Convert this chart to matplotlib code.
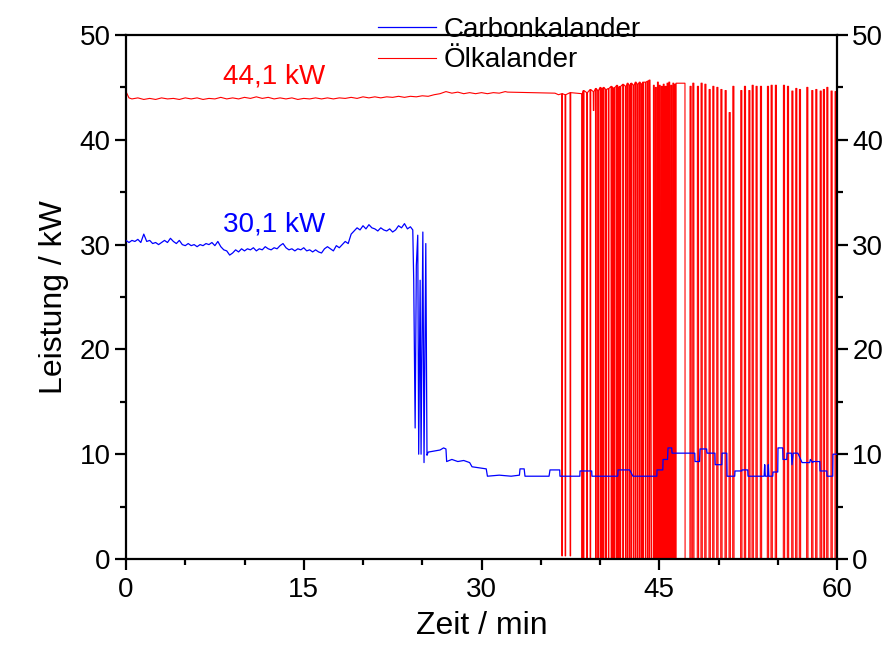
import numpy as np
import matplotlib
matplotlib.use("Agg")
import matplotlib.pyplot as plt

plt.rcParams['font.family'] = ['Liberation Sans', 'DejaVu Sans']

# Carbonkalander: power in kW, sampled in minutes
carbon_t = [0.00, 0.25, 0.50, 0.75, 1.00, 1.25, 1.50, 1.75, 2.00, 2.25, 2.50, 2.75,
            3.00, 3.25, 3.50, 3.75, 4.00, 4.25, 4.50, 4.75, 5.00, 5.25, 5.50, 5.75,
            6.00, 6.25, 6.50, 6.75, 7.00, 7.25, 7.50, 7.75, 8.00, 8.25, 8.50, 8.75,
            9.00, 9.25, 9.50, 9.75, 10.00, 10.25, 10.50, 10.75, 11.00, 11.25, 11.50, 11.75,
            12.00, 12.25, 12.50, 12.75, 13.00, 13.25, 13.50, 13.75, 14.00, 14.25, 14.50, 14.75,
            15.00, 15.25, 15.50, 15.75, 16.00, 16.25, 16.50, 16.75, 17.00, 17.25, 17.50, 17.75,
            18.00, 18.25, 18.50, 18.75, 19.00, 19.25, 19.50, 19.75, 20.00, 20.25, 20.50, 20.75,
            21.00, 21.25, 21.50, 21.75, 22.00, 22.25, 22.50, 22.75, 23.00, 23.25, 23.50, 23.75,
            24.00, 24.20, 24.28, 24.40, 24.50, 24.62, 24.70, 24.82, 24.90, 25.05, 25.15, 25.30,
            25.40, 25.50, 26.00, 26.50, 26.80, 27.00, 27.06, 27.50, 28.00, 28.50, 29.00, 29.20,
            29.80, 30.40, 30.50, 31.50, 32.50, 33.20, 33.25, 33.60, 33.67, 35.70, 35.78, 36.60,
            36.62, 38.30, 38.31, 39.30, 39.32, 41.50, 41.52, 42.50, 42.78, 44.80, 44.81, 45.30,
            45.32, 45.70, 45.74, 46.05, 46.08, 48.00, 48.02, 48.40, 48.44, 49.00, 49.03, 49.70,
            49.72, 50.28, 50.30, 50.70, 50.72, 51.37, 51.39, 51.96, 51.98, 52.47, 52.49, 53.85,
            53.90, 53.95, 54.15, 54.20, 54.25, 54.58, 54.60, 55.00, 55.02, 55.42, 55.44, 55.76,
            55.78, 56.15, 56.20, 56.30, 56.70, 57.05, 57.70, 57.75, 57.95, 57.97, 58.55, 58.57,
            59.14, 59.16, 59.64, 59.66, 60.00]
carbon_kw = [30.4, 30.2, 30.4, 30.3, 30.5, 30.2, 31.0, 30.3, 30.4, 30.1, 30.2, 30.0,
             30.2, 30.4, 30.2, 30.6, 30.3, 30.1, 30.4, 30.0, 29.9, 30.1, 29.9, 30.0,
             29.8, 30.0, 29.9, 30.1, 30.0, 30.2, 29.9, 30.3, 29.8, 29.5, 29.4, 29.0,
             29.2, 29.5, 29.3, 29.6, 29.4, 29.6, 29.5, 29.7, 29.4, 29.6, 29.5, 29.8,
             29.6, 29.5, 29.7, 29.6, 29.9, 30.1, 29.7, 29.5, 29.6, 29.4, 29.6, 29.5,
             29.7, 29.4, 29.5, 29.3, 29.5, 29.3, 29.2, 29.6, 29.8, 29.6, 29.4, 29.9,
             29.7, 30.0, 30.3, 30.1, 31.0, 31.3, 31.6, 31.4, 31.8, 31.5, 31.9, 31.6,
             31.5, 31.3, 31.6, 31.4, 31.3, 31.5, 31.2, 31.4, 31.8, 31.6, 32.0, 31.5,
             31.7, 31.4, 26.6, 12.5, 28.0, 30.9, 10.0, 26.6, 10.0, 31.2, 9.2, 30.1,
             9.9, 10.2, 10.3, 10.4, 10.6, 10.5, 9.3, 9.5, 9.3, 9.4, 9.2, 8.8,
             8.7, 8.6, 7.9, 8.0, 7.9, 8.0, 8.6, 8.6, 7.9, 7.9, 8.5, 8.5,
             7.9, 7.9, 8.4, 8.4, 7.9, 7.9, 8.5, 8.5, 7.9, 7.9, 8.5, 8.5,
             9.5, 9.5, 10.6, 10.6, 10.1, 10.1, 9.3, 9.3, 10.5, 10.5, 10.1, 10.1,
             9.0, 9.0, 10.1, 10.1, 7.9, 7.9, 8.4, 8.4, 8.5, 8.5, 7.9, 7.9,
             9.0, 7.9, 7.9, 9.0, 7.9, 7.9, 8.3, 8.3, 10.6, 10.6, 9.5, 9.5,
             10.1, 10.1, 9.0, 10.1, 10.1, 9.2, 9.2, 9.5, 9.2, 9.3, 9.3, 8.4,
             8.4, 7.9, 7.9, 10.0, 10.0]

# Ölkalander, steady part before the cycling starts
oil_t = [0.00, 0.25, 0.50, 1.00, 1.50, 2.00, 2.50, 3.00, 3.50, 4.00, 4.50, 5.00,
         5.50, 6.00, 6.50, 7.00, 7.50, 8.00, 8.50, 9.00, 9.50, 10.00, 10.50, 11.00,
         11.50, 12.00, 12.50, 13.00, 13.50, 14.00, 14.50, 15.00, 15.50, 16.00, 16.50, 17.00,
         17.50, 18.00, 18.50, 19.00, 19.50, 20.00, 20.50, 21.00, 21.50, 22.00, 22.50, 23.00,
         23.50, 24.00, 24.50, 25.00, 25.50, 26.00, 26.50, 27.00, 27.50, 28.00, 28.50, 29.00,
         29.50, 30.00, 30.50, 31.00, 31.50, 32.00, 32.20, 36.20, 36.50]
oil_kw = [44.6, 44.0, 43.9, 44.0, 43.85, 43.95, 43.85, 44.0, 43.9, 43.95, 43.85, 44.0,
          43.9, 44.0, 43.85, 43.95, 43.9, 44.05, 43.9, 44.0, 43.9, 44.05, 43.95, 44.1,
          43.95, 44.05, 43.9, 44.0, 43.9, 44.0, 43.85, 43.95, 43.9, 44.0, 43.9, 44.0,
          43.9, 44.0, 43.95, 44.05, 43.95, 44.1, 44.0, 44.1, 44.0, 44.1, 44.05, 44.15,
          44.05, 44.15, 44.1, 44.2, 44.15, 44.3, 44.4, 44.6, 44.45, 44.55, 44.4, 44.5,
          44.4, 44.5, 44.4, 44.5, 44.45, 44.6, 44.55, 44.45, 44.3]

# short drops to zero while the calender is still running
oil_dip_t = [36.77, 37.05, 37.47, 38.46, 38.59, 38.88, 39.16, 39.43, 39.62, 39.81,
             40.00, 40.14, 40.28, 40.48, 40.70, 40.93, 41.07, 41.21, 41.41, 41.55,
             41.69, 41.92, 42.14, 42.30, 42.47, 42.62, 42.81, 42.98, 43.15, 43.32,
             43.48, 43.60, 43.82, 44.00, 44.16]
oil_dip_top = [44.4, 44.3, 44.5, 44.4, 44.7, 44.5, 44.8, 44.6, 44.9, 44.7,
               45.0, 44.8, 45.0, 44.8, 44.9, 45.1, 44.9, 45.0, 45.2, 45.0,
               45.1, 45.3, 45.1, 45.4, 45.2, 45.4, 45.2, 45.5, 45.3, 45.5,
               45.3, 45.5, 45.5, 45.6, 45.7]
oil_dip_low = [0.3, 0.3, 0.3, 0.0, 0.0, 0.0, 0.0, 42.8, 0.0, 0.0,
               0.0, 0.0, 0.0, 0.0, 0.0, 0.0, 0.0, 0.0, 0.0, 0.0,
               0.0, 0.0, 0.0, 0.0, 0.0, 0.0, 0.0, 0.0, 0.0, 0.0,
               0.0, 0.0, 0.0, 0.0, 0.0]

# short pulses from zero once the calender cycles on and off
oil_pulse_t = [44.50, 44.67, 44.84, 45.00, 45.17, 45.33, 45.49, 45.65, 45.80, 45.97,
               46.14, 46.29, 46.41, 47.59, 47.82, 48.21,
               48.52, 48.84, 49.20, 49.51, 49.85, 50.19, 50.55, 50.89, 51.20, 51.87,
               52.18, 52.55, 52.83, 53.16, 53.53, 54.12, 54.43, 54.79, 55.47, 55.81,
               56.18, 56.51, 56.82, 57.44, 57.86, 58.20, 58.57, 58.84, 59.13, 59.49,
               59.83]
oil_pulse_kw = [45.2, 45.0, 45.5, 45.2, 45.1, 45.3, 45.1, 45.4, 45.5, 45.2,
                45.4, 45.3, 45.4, 45.1, 45.4, 45.1,
                45.4, 45.3, 44.8, 45.1, 45.0, 44.8, 44.7, 42.6, 45.1, 44.7,
                45.1, 44.7, 45.2, 45.1, 45.1, 45.1, 45.2, 45.2, 45.2, 45.1,
                44.65, 44.9, 44.8, 45.0, 44.7, 44.8, 44.65, 44.8, 45.0, 44.65,
                44.6]
oil_pulse_len = [0.08, 0.08, 0.08, 0.08, 0.08, 0.08, 0.08, 0.08, 0.08, 0.08,
                 0.08, 0.08, 0.76, 0.1, 0.1, 0.1,
                 0.1, 0.1, 0.1, 0.1, 0.1, 0.1, 0.1, 0.1, 0.1, 0.1,
                 0.1, 0.1, 0.1, 0.1, 0.1, 0.1, 0.1, 0.1, 0.1, 0.1,
                 0.1, 0.1, 0.1, 0.1, 0.1, 0.1, 0.1, 0.1, 0.1, 0.1,
                 0.1]

# assemble the full Ölkalander trace
ot = list(oil_t)
ok = list(oil_kw)
for t, top, low in zip(oil_dip_t, oil_dip_top, oil_dip_low):
    ot += [t, t + 0.01, t + 0.05, t + 0.06]
    ok += [top, low, low, top]
ot.append(44.35)
ok.append(0.0)
for t, h, w in zip(oil_pulse_t, oil_pulse_kw, oil_pulse_len):
    ot += [t, t + 0.01, t + w, t + w + 0.01]
    ok += [0.0, h, h, 0.0]
ot.append(60.0)
ok.append(0.0)

fig = plt.figure(figsize=(8.89, 6.51), dpi=100)
ax = fig.add_axes([126 / 889, 1 - 559 / 651, 711 / 889, 524 / 651])

ax.plot(ot, ok, color='#ff0000', lw=0.8, label='Ölkalander', zorder=2)
ax.plot(carbon_t, carbon_kw, color='#0000ff', lw=0.9, label='Carbonkalander', zorder=3)

ax.text(12.5, 46.0, '44,1 kW', color='#ff0000', fontsize=20, ha='center', va='center')
ax.text(12.5, 31.9, '30,1 kW', color='#0000ff', fontsize=20, ha='center', va='center')

ax.set_xlim(0, 60)
ax.set_ylim(0, 50)
ax.set_xticks([0, 15, 30, 45, 60])
ax.set_xticks(np.arange(0, 61, 5), minor=True)
ax.set_yticks(np.arange(0, 51, 10))
ax.set_yticks(np.arange(0, 51, 5), minor=True)

for s in ax.spines.values():
    s.set_linewidth(1.6)
ax.tick_params(which='both', direction='out', width=1.6, labelsize=20,
               right=True, labelright=True)
ax.tick_params(which='major', length=8)
ax.tick_params(which='minor', length=4)
ax.tick_params(axis='x', pad=5)
ax.tick_params(axis='y', pad=3)

ax.set_xlabel('Zeit / min', fontsize=23, labelpad=6)
ax.set_ylabel('Leistung / kW', fontsize=23, labelpad=8)

handles, labels = ax.get_legend_handles_labels()
ax.legend(handles[::-1], labels[::-1], loc='upper left', frameon=False,
          bbox_to_anchor=(378 / 889, 1 - 17 / 651), bbox_transform=fig.transFigure,
          fontsize=20, handlelength=2.1, handletextpad=0.25, labelspacing=0.16,
          borderpad=0, borderaxespad=0)

fig.savefig('out.png', dpi=100)
